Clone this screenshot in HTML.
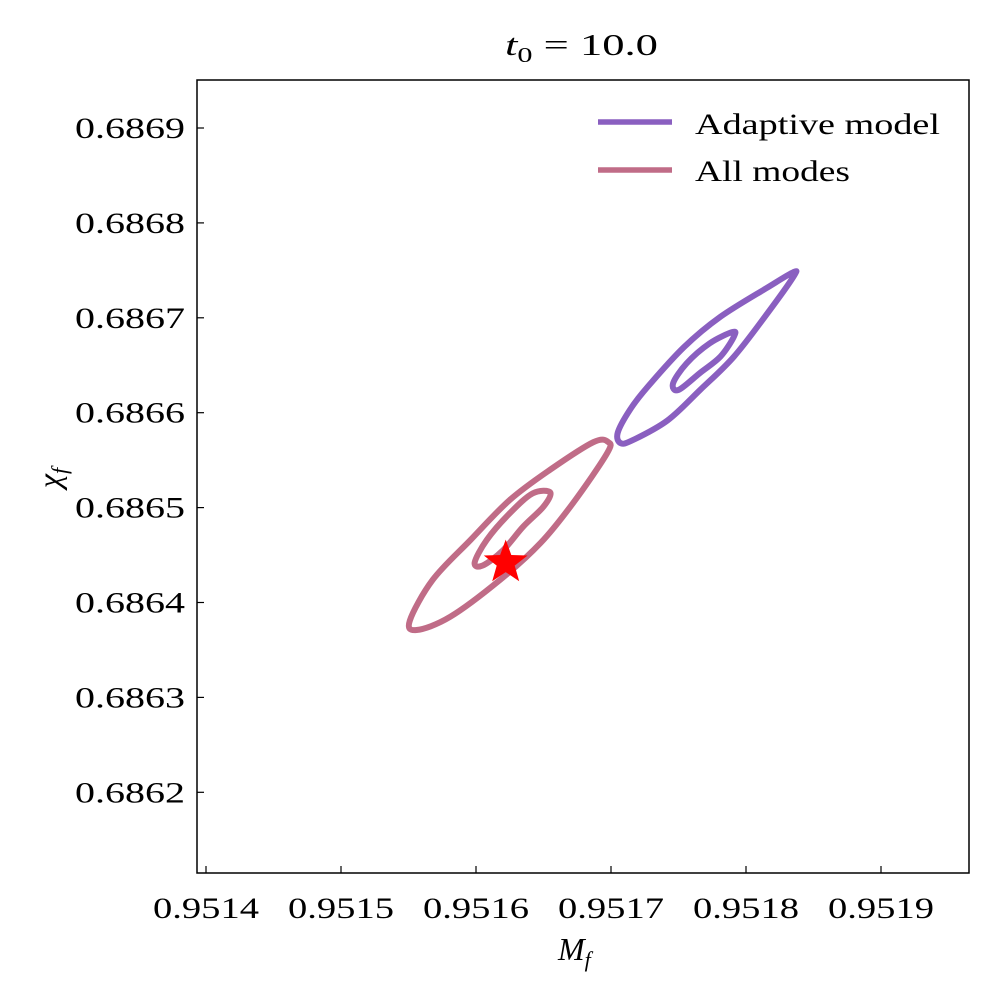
<!DOCTYPE html>
<html><head><meta charset="utf-8"><style>
body{margin:0;background:#fff}
svg text{font-family:"Liberation Serif",serif;fill:#000}
</style></head><body>
<svg id="chart" width="1000" height="1000">
<rect x="0" y="0" width="1000" height="1000" fill="#fff"/>
<g id="marks"></g>
<rect x="197" y="80" width="772" height="793" fill="none" stroke="#000" stroke-width="1.5"/>
<g id="axes"></g>
<text x="505" y="55" font-size="31" textLength="153" lengthAdjust="spacingAndGlyphs"><tspan font-style="italic">t</tspan><tspan font-size="21" dy="7">0</tspan><tspan dy="-7"> = 10.0</tspan></text>
<text x="558" y="960" font-size="32"><tspan font-style="italic">M</tspan><tspan font-style="italic" font-size="22" dy="7">f</tspan></text>
<text transform="translate(60,478) rotate(-90)" font-size="32" text-anchor="middle"><tspan font-style="italic">χ</tspan><tspan font-style="italic" font-size="22" dy="7">f</tspan></text>
<g>
<line x1="598" y1="122" x2="672" y2="122" stroke="#8a5fc0" stroke-width="5.5"/>
<text x="695" y="134" font-size="30" textLength="245" lengthAdjust="spacingAndGlyphs">Adaptive model</text>
<line x1="598" y1="170" x2="672" y2="170" stroke="#c06c87" stroke-width="5.5"/>
<text x="695" y="181" font-size="30" textLength="155" lengthAdjust="spacingAndGlyphs">All modes</text>
</g>
</svg>
<script>
const xTicks=[0.9514,0.9515,0.9516,0.9517,0.9518,0.9519];
const xTickLabels=["0.9514","0.9515","0.9516","0.9517","0.9518","0.9519"];
const yTicks=[0.6869,0.6868,0.6867,0.6866,0.6865,0.6864,0.6863,0.6862];
const yTickLabels=["0.6869","0.6868","0.6867","0.6866","0.6865","0.6864","0.6863","0.6862"];
const adaptiveOuterM=[0.951835,0.951816,0.951781,0.951754,0.951727,0.951714,0.951705,0.951707,0.951716,0.951742,0.951766,0.951791,0.951816,0.951835];
const adaptiveOuterChi=[0.686748,0.686732,0.686701,0.686669,0.686627,0.686603,0.686579,0.686568,0.686571,0.686592,0.686624,0.686659,0.686705,0.686743];
const adaptiveInnerM=[0.951790,0.951773,0.951756,0.951746,0.951750,0.951766,0.951781,0.951791];
const adaptiveInnerChi=[0.686685,0.686673,0.686652,0.686631,0.686624,0.686642,0.686659,0.686680];
const allOuterM=[0.951698,0.951687,0.951655,0.951625,0.951596,0.951568,0.951551,0.951556,0.951581,0.951618,0.951648,0.951672,0.951697];
const allOuterChi=[0.686569,0.686569,0.686540,0.686508,0.686466,0.686424,0.686381,0.686371,0.686385,0.686424,0.686463,0.686505,0.686557];
const allInnerM=[0.951655,0.951642,0.951625,0.951608,0.951599,0.951605,0.951620,0.951635,0.951650];
const allInnerChi=[0.686516,0.686515,0.686494,0.686466,0.686442,0.686439,0.686455,0.686480,0.686501];
const trueM=[0.951622];
const trueChi=[0.686442];

const NS="http://www.w3.org/2000/svg";
const X=v=>206+(v-0.9514)/0.0001*135;
const Y=v=>128+(0.6869-v)/0.0001*94.9;
const axes=document.getElementById('axes');
const marks=document.getElementById('marks');
function mk(tag,attrs,parent){const e=document.createElementNS(NS,tag);for(const k in attrs)e.setAttribute(k,attrs[k]);parent.appendChild(e);return e;}
xTicks.forEach((t,i)=>{
  const l=mk('line',{x1:X(t),x2:X(t),y1:873,y2:866,stroke:'#000','stroke-width':1.2},axes);
  
  
  const tx=mk('text',{x:X(t)-53,y:918,'font-size':30,textLength:106,lengthAdjust:'spacingAndGlyphs'},axes);
  tx.textContent=xTickLabels[i];
  
  
});
yTicks.forEach((t,i)=>{
  const l=mk('line',{x1:197,x2:204,y1:Y(t),y2:Y(t),stroke:'#000','stroke-width':1.2},axes);
  
  
  const tx=mk('text',{x:75,y:Y(t)+10,'font-size':30,textLength:110,lengthAdjust:'spacingAndGlyphs'},axes);
  tx.textContent=yTickLabels[i];
  
  
});
function closedPath(ms,cs){
  let p=ms.map((m,i)=>[X(m),Y(cs[i])]);
  const n=p.length;let d=`M${p[0][0]},${p[0][1]}`;
  for(let i=0;i<n;i++){
    const p0=p[(i-1+n)%n],p1=p[i],p2=p[(i+1)%n],p3=p[(i+2)%n];
    d+=` C${p1[0]+(p2[0]-p0[0])/6},${p1[1]+(p2[1]-p0[1])/6} ${p2[0]-(p3[0]-p1[0])/6},${p2[1]-(p3[1]-p1[1])/6} ${p2[0]},${p2[1]}`;
  }
  return d+'Z';
}
function contour(ms,cs,color,name){
  const e=mk('path',{d:closedPath(ms,cs),fill:'none',stroke:color,'stroke-width':6,'stroke-linejoin':'round'},marks);
  
  
}
contour(adaptiveOuterM,adaptiveOuterChi,'#8a5fc0','adaptive-contour-outer');
contour(adaptiveInnerM,adaptiveInnerChi,'#8a5fc0','adaptive-contour-inner');
contour(allOuterM,allOuterChi,'#c06c87','all-modes-contour-outer');
contour(allInnerM,allInnerChi,'#c06c87','all-modes-contour-inner');
trueM.forEach((m,i)=>{
  const cx=X(m),cy=Y(trueChi[i]),R=23,r=9.5;let pts=[];
  for(let k=0;k<10;k++){const a=-Math.PI/2+k*Math.PI/5,rr=k%2?r:R;pts.push((cx+rr*Math.cos(a)).toFixed(1)+','+(cy+rr*Math.sin(a)).toFixed(1));}
  const s=mk('polygon',{points:pts.join(' '),fill:'#ff0000'},marks);
  
  
});
</script>
</body></html>
